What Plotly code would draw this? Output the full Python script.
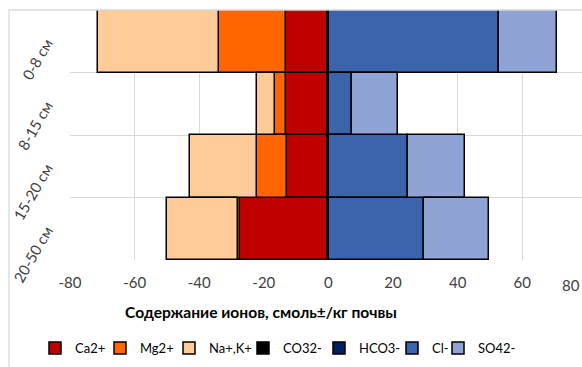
import plotly.graph_objects as go

depths = ["0-8 см", "8-15 см", "15-20 см", "20-50 см"]
x_ticks = [-80, -60, -40, -20, 0, 20, 40, 60]
x_ticktext = ["-80", "-60", "-40", "-20", "0", "20", "40", "60"]
x_min, x_max = -80, 78.5

# cations (drawn to the left, negative)
ca = [13.1, 13.0, 12.9, 27.3]
mg = [20.7, 3.5, 9.3, 0.6]
na = [37.6, 5.7, 20.6, 22.1]
# anions (drawn to the right)
co3 = [0, 0, 0, 0]
hco3 = [0.3, 0.3, 0.3, 0.3]
cl = [52.5, 6.9, 24.2, 29.3]
so4 = [18.1, 14.4, 17.9, 20.0]

names = ["Ca2+", "Mg2+", "Na+,K+", "CO32-", "HCO3-", "Cl-", "SO42-"]
colors = ["#C00000", "#FF6600", "#FFCC99", "#000000", "#002060", "#3B64AD", "#8FA4D4"]
values = [[-v for v in ca], [-v for v in mg], [-v for v in na], co3, hco3, cl, so4]
# legend entry left positions (container px)
legend_px = [35, 100, 169, 243, 319, 392, 438]

W, H = 582, 367
ML, MT, MB = 70, 10, 107
plot_w, plot_h = W - ML, H - MT - MB

font = "Lato, Open Sans, sans-serif"
fig = go.Figure()
legend_layout = {}
for i, (name, vals, col) in enumerate(zip(names, values, colors)):
    lid = "legend" if i == 0 else f"legend{i+1}"
    fig.add_trace(go.Bar(
        y=depths, x=vals, name=name, orientation="h", legend=lid,
        marker=dict(color=col, line=dict(color="#000000", width=1.5)),
    ))
    legend_layout[lid] = dict(
        xref="container", yref="container", x=legend_px[i] / W, xanchor="left",
        y=1 - 348 / H, yanchor="middle", orientation="h", itemwidth=30,
        font=dict(size=13, color="#000000"), bgcolor="rgba(0,0,0,0)",
    )

fig.update_layout(
    width=W, height=H,
    margin=dict(l=ML, r=0, t=MT, b=MB, autoexpand=False),
    barmode="relative", bargap=0,
    plot_bgcolor="white", paper_bgcolor="white",
    font=dict(family=font, size=14, color="#404040"),
    showlegend=True,
    xaxis=dict(range=[x_min, x_max], tickvals=x_ticks, ticktext=x_ticktext, showgrid=True,
               gridcolor="#D9D9D9", gridwidth=1.3, zeroline=False, ticks="",
               ticklabelstandoff=12,
               tickfont=dict(size=15, color="#404040")),
    yaxis=dict(autorange="reversed", tickson="boundaries", showgrid=True, gridcolor="#D9D9D9",
               gridwidth=1.3, ticks="", tickangle=-60, ticklabelstandoff=22,
               tickfont=dict(size=15, color="#404040")),
    shapes=[
        dict(type="line", xref="paper", yref="paper", x0=(9 - ML) / plot_w, x1=(9 - ML) / plot_w,
             y0=1, y1=-0.5, line=dict(color="#D9D9D9", width=1.3)),
        dict(type="line", xref="paper", yref="paper", x0=(9 - ML) / plot_w, x1=1.0, y0=1, y1=1,
             line=dict(color="#D9D9D9", width=1.3)),
    ],
    annotations=[
        dict(x=1.0, y=-0.02, xref="paper", yref="paper", text="80", xanchor="right",
             showarrow=False, yanchor="top", yshift=-9, font=dict(size=15, color="#404040")),
        dict(x=(261 - ML) / plot_w, y=(H - MB - 312) / plot_h, xref="paper", yref="paper",
             text="<b>Содержание ионов, смоль±/кг почвы</b>", showarrow=False,
             xanchor="center", yanchor="middle", font=dict(size=15.6, color="#000000")),
    ],
    **legend_layout,
)

fig.write_html("out.html")
